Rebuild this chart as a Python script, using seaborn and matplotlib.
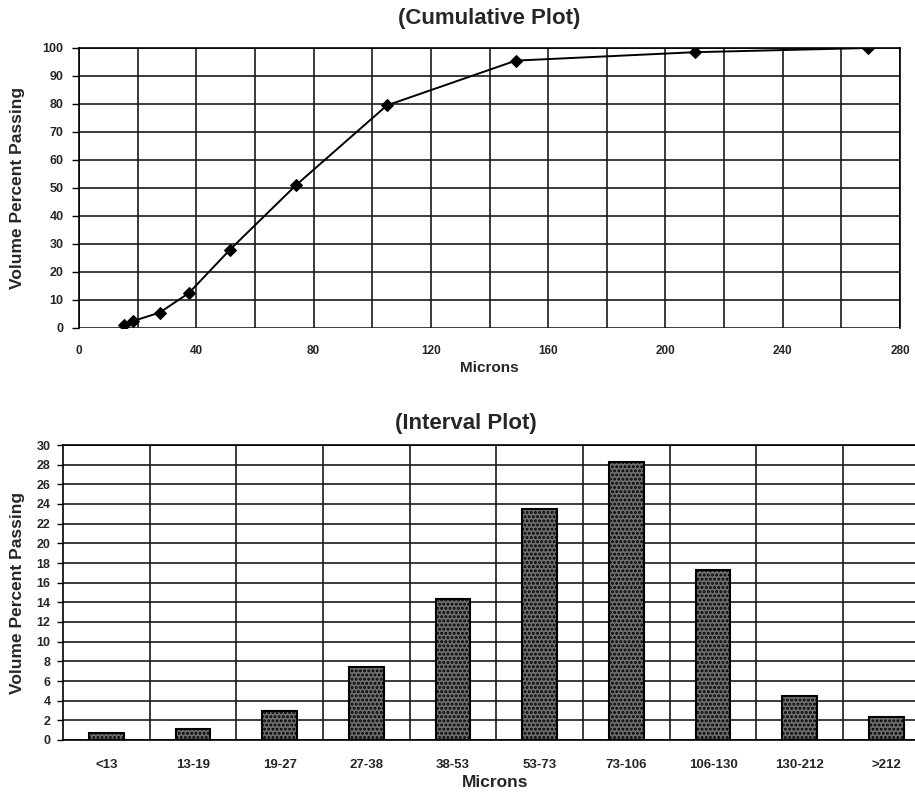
import numpy as np
import pandas as pd
import matplotlib
matplotlib.use("Agg")
import matplotlib.pyplot as plt
import seaborn as sns

# cumulative curve (microns vs volume percent passing)
cum_microns = [15.5, 18.5, 27.5, 37.5, 51.5, 74, 105, 149, 210, 269]
cum_percent = [1.0, 2.5, 5.5, 12.5, 28, 51, 79.5, 95.5, 98.5, 100]

# interval distribution
interval_labels = ["<13", "13-19", "19-27", "27-38", "38-53", "53-73",
                   "73-106", "106-130", "130-212", ">212"]
interval_percent = [0.7, 1.1, 2.9, 7.4, 14.3, 23.5, 28.3, 17.3, 4.5, 2.3]

sns.set_theme(style="white")
plt.rcParams["font.family"] = ["Liberation Sans", "DejaVu Sans"]
plt.rcParams["hatch.color"] = "black"
plt.rcParams["hatch.linewidth"] = 1.4

W, H = 915, 797
fig = plt.figure(figsize=(W / 100, H / 100), dpi=100)

grid_kw = dict(color="#1a1a1a", linewidth=1.2)

# 1 Cumulative plot
ax1 = fig.add_axes([79 / W, 1 - 328 / H, 821 / W, 280 / H])
cum_df = pd.DataFrame({"microns": cum_microns, "percent": cum_percent})
sns.lineplot(data=cum_df, x="microns", y="percent", ax=ax1, color="black",
             linewidth=1.4, marker="D", markersize=6,
             markerfacecolor="black", markeredgecolor="black")
ax1.set_xlim(0, 280)
ax1.set_ylim(0, 100)
ax1.set_xticks(range(0, 281, 40))
ax1.set_xticks(range(0, 281, 20), minor=True)
ax1.set_yticks(range(0, 101, 10))
ax1.grid(True, which="both", axis="x", **grid_kw)
ax1.grid(True, which="major", axis="y", **grid_kw)
ax1.set_axisbelow(True)
ax1.tick_params(axis="x", which="both", length=0, pad=12, labelsize=8.5)
ax1.tick_params(axis="y", length=5, width=1, color="black", pad=6,
                labelsize=9, left=True)
for lab in ax1.get_xticklabels() + ax1.get_yticklabels():
    lab.set_fontweight("bold")
for sp in ax1.spines.values():
    sp.set_color("black")
    sp.set_linewidth(1.2)
ax1.spines["bottom"].set_visible(False)
ax1.set_xlabel("Microns", fontsize=11, fontweight="bold", labelpad=3)
ax1.set_ylabel("Volume Percent Passing", fontsize=12.5, fontweight="bold")
ax1.yaxis.set_label_coords((25 - 79) / 821, 0.5)
ax1.set_title("(Cumulative Plot)", fontsize=16, fontweight="bold", pad=17)

# 2 Interval plot
ax2 = fig.add_axes([63 / W, 1 - 740 / H, 852 / W, 295 / H])
int_df = pd.DataFrame({"interval": interval_labels, "percent": interval_percent})
sns.barplot(data=int_df, x="interval", y="percent", ax=ax2, width=0.4,
            color="#6e6e6e", edgecolor="black", linewidth=1.5,
            saturation=1)
for bar in ax2.patches:
    bar.set_hatch("....")
ax2.set_xlim(-0.5, 9.33)
ax2.set_ylim(0, 30)
ax2.set_yticks(range(0, 31, 2))
ax2.set_xticks(np.arange(0.5, 9.5, 1), minor=True)
ax2.grid(True, which="minor", axis="x", **grid_kw)
ax2.grid(True, which="major", axis="y", **grid_kw)
ax2.set_axisbelow(True)
ax2.tick_params(axis="x", which="both", length=0, pad=14, labelsize=9.5)
ax2.tick_params(axis="y", length=4, width=1, color="black", pad=5,
                labelsize=9, left=True)
for lab in ax2.get_xticklabels() + ax2.get_yticklabels():
    lab.set_fontweight("bold")
for sp in ax2.spines.values():
    sp.set_color("black")
    sp.set_linewidth(1.2)
ax2.spines["right"].set_visible(False)
ax2.set_xlabel("Microns", fontsize=12.5, fontweight="bold")
ax2.xaxis.set_label_coords((495 - 63) / 852, -0.118)
ax2.set_ylabel("Volume Percent Passing", fontsize=12.5, fontweight="bold")
ax2.yaxis.set_label_coords((25 - 63) / 852, 0.5)
fig.text(466 / W, 1 - 423 / H, "(Interval Plot)", fontsize=16,
         fontweight="bold", ha="center", va="center")

fig.savefig("out.png", dpi=100)
plt.close(fig)
print("Saved plot: out.png")
